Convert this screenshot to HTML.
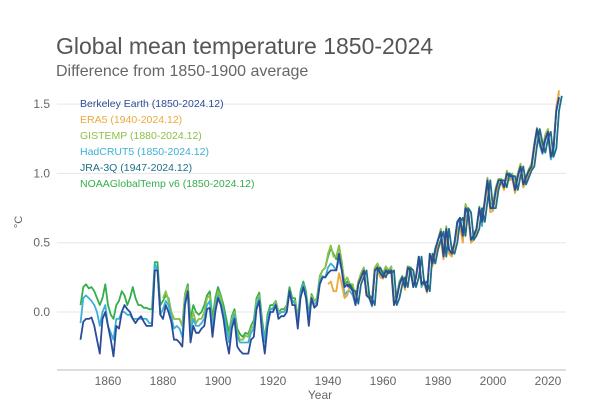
<!DOCTYPE html>
<html><head><meta charset="utf-8"><style>
body{margin:0;background:#fff;font-family:"Liberation Sans",sans-serif}
svg{display:block}
</style></head><body>
<svg id="chart" width="604" height="410">
<text x="56" y="54" font-size="23" fill="#555">Global mean temperature 1850-2024</text>
<text x="56" y="76" font-size="16" fill="#666">Difference from 1850-1900 average</text>
<text x="22" y="222" font-size="11" fill="#666" transform="rotate(-90 22 222)" text-anchor="middle">°C</text>
<text x="320" y="399" font-size="12" fill="#666" text-anchor="middle">Year</text>
<g id="grid"></g><g id="lines"></g><g id="legend"></g>
</svg>
<script>
const yTicks=[0.0,0.5,1.0,1.5];
const xTicks=[1860,1880,1900,1920,1940,1960,1980,2000,2020];
const names=["Berkeley Earth (1850-2024.12)","ERA5 (1940-2024.12)","GISTEMP (1880-2024.12)","HadCRUT5 (1850-2024.12)","JRA-3Q (1947-2024.12)","NOAAGlobalTemp v6 (1850-2024.12)"];
const colors=["#2b4c99","#eea83a","#8dc048","#3bb0d8","#1d6f87","#34ad4c"];
const startYears=[1850,1940,1880,1850,1947,1850];
const berkeley=[-0.2,-0.07,-0.05,-0.05,-0.04,-0.1,-0.2,-0.3,-0.05,0.0,-0.1,-0.2,-0.32,-0.1,-0.12,0.0,0.05,0.02,0.0,-0.05,-0.08,-0.05,-0.03,-0.07,-0.1,-0.1,-0.1,0.3,0.3,-0.02,
-0.05,0.05,0.0,-0.07,-0.2,-0.2,-0.22,-0.25,0.05,0.15,-0.22,-0.1,-0.15,-0.15,-0.12,-0.1,0.02,0.03,-0.18,0.0,
0.1,0.05,-0.05,-0.2,-0.3,-0.12,-0.05,-0.25,-0.28,-0.3,-0.3,-0.3,-0.2,-0.18,0.02,0.08,-0.15,-0.3,-0.1,0.0,
0.0,0.05,-0.05,-0.03,-0.03,0.0,0.15,0.05,0.05,-0.12,0.1,0.18,0.1,-0.1,0.1,0.03,0.05,0.2,0.25,0.25,
0.28,0.3,0.3,0.3,0.42,0.3,0.18,0.2,0.18,0.15,0.05,0.2,0.25,0.3,0.12,0.1,0.05,0.3,0.32,0.28,
0.25,0.3,0.28,0.3,0.05,0.1,0.2,0.25,0.18,0.32,0.3,0.18,0.25,0.4,0.2,0.22,0.15,0.42,0.35,0.45,
0.52,0.58,0.4,0.6,0.45,0.42,0.5,0.65,0.68,0.55,0.75,0.72,0.52,0.55,0.6,0.75,0.65,0.8,0.95,0.75,
0.75,0.88,0.95,0.95,0.9,1.0,0.98,0.98,0.88,0.98,1.05,0.92,0.97,1.02,1.05,1.2,1.32,1.22,1.15,1.25,
1.3,1.12,1.18,1.45,1.55];
const era5=[0.2,0.22,0.15,0.15,0.28,0.2,0.1,0.12,0.2,0.15,0.08,0.2,0.24,0.3,0.12,0.1,0.05,0.3,0.3,0.25,
0.24,0.28,0.28,0.28,0.05,0.12,0.2,0.24,0.16,0.3,0.28,0.2,0.24,0.38,0.2,0.2,0.14,0.4,0.33,0.42,
0.48,0.52,0.38,0.55,0.42,0.4,0.48,0.6,0.62,0.5,0.7,0.68,0.5,0.52,0.58,0.75,0.65,0.78,0.92,0.72,
0.73,0.85,0.92,0.93,0.88,0.98,0.95,0.96,0.86,0.97,1.05,0.9,0.95,1.0,1.03,1.18,1.32,1.22,1.15,1.26,
1.3,1.12,1.18,1.48,1.6];
const gistemp=[0.1,0.15,0.08,0.0,-0.05,-0.05,-0.05,-0.1,0.12,0.18,-0.1,0.0,-0.08,-0.05,-0.05,0.0,0.1,0.12,-0.1,0.05,
0.15,0.1,0.0,-0.12,-0.18,-0.05,0.0,-0.15,-0.2,-0.2,-0.17,-0.18,-0.12,-0.1,0.08,0.12,-0.1,-0.2,-0.05,0.02,
0.03,0.08,0.0,0.0,0.0,0.05,0.15,0.08,0.08,-0.05,0.12,0.2,0.12,-0.05,0.12,0.08,0.1,0.25,0.3,0.32,
0.42,0.48,0.4,0.4,0.48,0.35,0.22,0.25,0.2,0.2,0.1,0.22,0.28,0.32,0.15,0.12,0.1,0.32,0.35,0.3,
0.28,0.33,0.3,0.33,0.1,0.12,0.2,0.25,0.2,0.33,0.3,0.2,0.25,0.4,0.2,0.22,0.15,0.42,0.35,0.45,
0.52,0.6,0.42,0.62,0.45,0.42,0.5,0.65,0.68,0.55,0.78,0.72,0.52,0.55,0.6,0.75,0.65,0.82,0.97,0.78,
0.78,0.9,0.96,0.96,0.9,1.02,0.98,1.0,0.9,1.0,1.07,0.94,0.98,1.03,1.07,1.22,1.33,1.25,1.18,1.28,
1.32,1.14,1.2,1.47,1.58];
const hadcrut=[-0.08,0.1,0.12,0.1,0.08,0.05,0.0,-0.1,0.0,0.05,-0.1,-0.15,-0.2,-0.05,-0.05,0.0,0.0,-0.02,-0.02,-0.05,-0.05,-0.05,-0.05,-0.05,-0.05,-0.08,-0.08,0.35,0.3,-0.02,
0.02,0.08,0.05,-0.03,-0.12,-0.1,-0.12,-0.18,0.08,0.15,-0.15,-0.05,-0.1,-0.1,-0.08,-0.05,0.05,0.08,-0.12,0.03,
0.12,0.06,0.0,-0.12,-0.22,-0.08,-0.02,-0.18,-0.22,-0.22,-0.22,-0.22,-0.15,-0.12,0.05,0.1,-0.1,-0.22,-0.05,0.02,
0.02,0.06,-0.02,0.0,0.0,0.02,0.15,0.08,0.06,-0.08,0.12,0.2,0.12,-0.05,0.1,0.05,0.08,0.22,0.26,0.25,
0.32,0.35,0.33,0.3,0.38,0.3,0.12,0.15,0.15,0.12,0.05,0.2,0.24,0.3,0.12,0.1,0.04,0.3,0.32,0.28,
0.25,0.3,0.28,0.3,0.06,0.1,0.2,0.24,0.18,0.32,0.3,0.18,0.25,0.38,0.18,0.22,0.14,0.4,0.34,0.45,
0.52,0.56,0.4,0.58,0.44,0.42,0.48,0.64,0.66,0.55,0.74,0.7,0.5,0.55,0.6,0.74,0.62,0.8,0.94,0.75,
0.74,0.86,0.92,0.94,0.9,0.98,0.96,0.97,0.86,0.97,1.04,0.9,0.95,1.0,1.04,1.18,1.3,1.2,1.14,1.24,
1.28,1.1,1.16,1.45,1.54];
const jra=[0.18,0.2,0.16,0.15,0.06,0.2,0.25,0.3,0.12,0.1,0.05,0.3,0.32,0.28,
0.25,0.3,0.28,0.3,0.05,0.1,0.2,0.25,0.18,0.32,0.3,0.18,0.25,0.4,0.2,0.22,0.15,0.42,0.35,0.45,
0.52,0.58,0.4,0.6,0.45,0.42,0.5,0.65,0.68,0.55,0.75,0.72,0.52,0.55,0.6,0.75,0.65,0.8,0.95,0.75,
0.75,0.88,0.95,0.95,0.9,1.0,0.98,0.98,0.88,0.98,1.05,0.92,0.97,1.02,1.05,1.2,1.32,1.22,1.15,1.25,
1.3,1.12,1.18,1.45,1.56];
const noaa=[0.05,0.18,0.2,0.17,0.18,0.15,0.1,0.05,0.1,0.2,0.05,-0.02,-0.05,0.05,0.08,0.15,0.12,0.05,0.1,0.18,0.1,0.05,0.05,0.03,0.03,0.02,0.02,0.36,0.36,0.05,
0.08,0.12,0.1,0.0,-0.05,-0.05,-0.05,-0.1,0.13,0.2,-0.05,0.05,0.0,-0.02,0.0,0.05,0.12,0.15,-0.05,0.1,
0.18,0.12,0.05,-0.05,-0.15,-0.03,0.02,-0.12,-0.16,-0.18,-0.15,-0.16,-0.1,-0.06,0.1,0.14,-0.05,-0.2,-0.02,0.05,
0.05,0.08,0.0,0.02,0.02,0.05,0.18,0.1,0.1,-0.05,0.15,0.22,0.15,-0.02,0.13,0.08,0.1,0.26,0.3,0.32,
0.4,0.46,0.42,0.38,0.48,0.36,0.2,0.22,0.2,0.18,0.08,0.22,0.26,0.32,0.14,0.12,0.08,0.32,0.34,0.3,
0.27,0.32,0.3,0.32,0.08,0.12,0.22,0.26,0.2,0.33,0.32,0.2,0.26,0.4,0.2,0.23,0.15,0.42,0.35,0.46,
0.52,0.58,0.42,0.6,0.45,0.43,0.5,0.65,0.68,0.56,0.76,0.72,0.52,0.56,0.6,0.76,0.65,0.8,0.95,0.76,
0.76,0.88,0.95,0.95,0.9,1.0,0.98,0.98,0.88,0.98,1.05,0.92,0.97,1.02,1.06,1.2,1.32,1.22,1.16,1.26,
1.3,1.12,1.18,1.46,1.55];
const series=[berkeley,era5,gistemp,hadcrut,jra,noaa];
const drawOrder=[5,2,3,1,4,0];
const NS="http://www.w3.org/2000/svg";
const X=yr=>108+(yr-1860)*2.75;
const Y=v=>312-v*138.6;
const grid=document.getElementById('grid');
function mk(tag,attrs,parent){const e=document.createElementNS(NS,tag);for(const k in attrs)e.setAttribute(k,attrs[k]);parent.appendChild(e);return e;}
yTicks.forEach(t=>{
 const l=mk('line',{x1:57,x2:566,y1:Y(t),y2:Y(t),stroke:'#e6e6e6','stroke-width':1},grid);
 
 
 const tx=mk('text',{x:50,y:Y(t)+4,'font-size':12,fill:'#666','text-anchor':'end'},grid);
 tx.textContent=t.toFixed(1);
 
 
});
const ax=mk('line',{x1:57,x2:566,y1:370,y2:370,stroke:'#bbb','stroke-width':1},grid);


xTicks.forEach(t=>{
 const tx=mk('text',{x:X(t),y:385,'font-size':12,fill:'#666','text-anchor':'middle'},grid);
 tx.textContent=t;
 
 
});
const lines=document.getElementById('lines');
drawOrder.forEach(i=>{
 const d=series[i].map((v,k)=>(k?'L':'M')+X(startYears[i]+k).toFixed(1)+','+Y(v).toFixed(1)).join('');
 const p=mk('path',{d:d,fill:'none',stroke:colors[i],'stroke-width':1.8,'stroke-linejoin':'round'},lines);
 
 
});
const lg=document.getElementById('legend');
names.forEach((n,i)=>{
 const t=mk('text',{x:80,y:107+i*16,'font-size':10.5,fill:colors[i]},lg);
 t.textContent=n;
 
 
});
</script>
</body></html>
